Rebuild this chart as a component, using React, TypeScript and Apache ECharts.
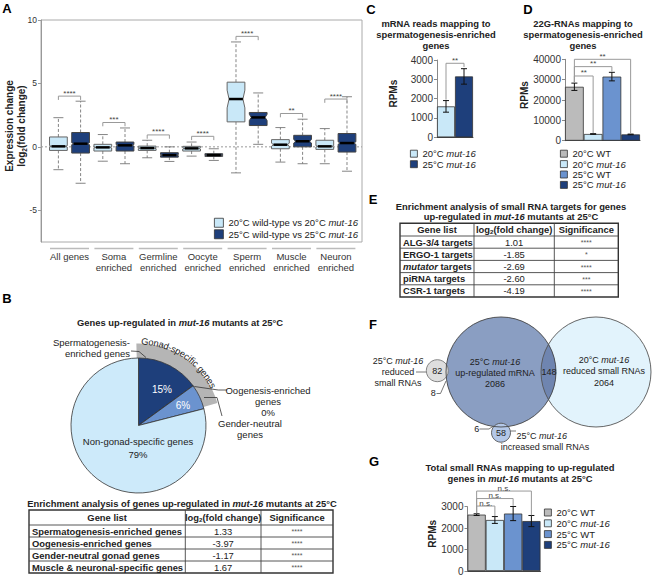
import React, { useEffect, useRef } from 'react';
import * as echarts from 'echarts';

const FONT = '"Liberation Sans", Arial, Helvetica, sans-serif';
const INK = '#222';
const LIGHT = '#c9e8f8';
const DARK = '#1e3f7b';
const MED = '#6b93cf';
const GREY = '#bbbbbb';

// ---------------- Panel A ----------------
const groupLabels = ['All genes', 'Soma\nenriched', 'Germline\nenriched', 'Oocyte\nenriched', 'Sperm\nenriched', 'Muscle\nenriched', 'Neuron\nenriched'];
const legendA = ['20°C wild-type vs 20°C mut-16', '25°C wild-type vs 25°C mut-16'];
// [lower whisker, Q1, median, Q3, upper whisker, notch half-height]
const box20 = [
  [-1.8, -0.28, 0.04, 0.78, 2.3, 0.06],
  [-1.13, -0.33, -0.04, 0.2, 0.97, 0.05],
  [-0.86, -0.28, -0.1, 0.06, 0.52, 0.04],
  [-0.73, -0.33, -0.12, 0.04, 0.38, 0.05],
  [-2.05, 1.97, 3.77, 5.1, 8.27, 0.7],
  [-1.2, -0.15, 0.17, 0.57, 1.52, 0.12],
  [-1.33, -0.2, 0.04, 0.52, 1.44, 0.06],
];
const box25 = [
  [-2.87, -0.49, 0.25, 1.13, 3.6, 0.08],
  [-1.33, -0.33, 0.12, 0.38, 1.49, 0.06],
  [-1.15, -0.81, -0.65, -0.46, 0, 0.04],
  [-1.07, -0.75, -0.65, -0.54, -0.15, 0.03],
  [0.2, 1.68, 2.32, 2.71, 4.25, 0.25],
  [-1.33, 0, 0.44, 0.91, 2.18, 0.14],
  [-1.92, -0.41, 0.3, 1.05, 3.95, 0.1],
];
const sigA = ['****', '***', '****', '****', '****', '**', '****'];
const sigAHeight = [4.0, 1.92, 0.94, 0.83, 8.71, 2.63, 3.77];
const yTicksA = [-5, 0, 5, 10];

// ---------------- Panel B ----------------
const pieNames = ['Spermatogenesis-enriched genes', 'Oogenesis-enriched genes', 'Gender-neutral genes', 'Non-gonad-specific genes'];
const pieValues = [15, 0, 6, 79];
const tableBGenes = ['Spermatogenesis-enriched genes', 'Oogenesis-enriched genes', 'Gender-neutral gonad genes', 'Muscle & neuronal-specific genes'];
const tableBFold = ['1.33', '-3.97', '-1.17', '1.67'];
const tableBSig = ['****', '****', '****', '****'];

// ---------------- Panel C ----------------
const condC = ['20°C mut-16', '25°C mut-16'];
const mrnaMean = [1600, 3150];
const mrnaErr = [300, 400];
const mrnaBrackets = [[0, 1, 3830, 1950, 3640]];
const mrnaSig = ['**'];

// ---------------- Panel D ----------------
const cond4 = ['20°C WT', '20°C mut-16', '25°C WT', '25°C mut-16'];
const g22Mean = [26500, 3300, 31500, 3100];
const g22Err = [1800, 150, 2100, 150];
const g22Brackets = [[0, 1, 31800, 28600, 3700], [0, 2, 36400, 28600, 34000], [0, 3, 40000, 28600, 3700]];
const g22Sig = ['**', '**', '**'];

// ---------------- Panel E ----------------
const tableEGenes = ['ALG-3/4 targets', 'ERGO-1 targets', 'mutator targets', 'piRNA targets', 'CSR-1 targets'];
const tableEFold = ['1.01', '-1.85', '-2.69', '-2.60', '-4.19'];
const tableESig = ['****', '*', '****', '***', '****'];

// ---------------- Panel F ----------------
const vennUp = 2086;
const vennRed20 = 2064;
const vennOverlap = 148;
const vennRed25 = 82;
const vennRed25Shared = 8;
const vennInc25 = 58;
const vennInc25Shared = 6;

// ---------------- Panel G ----------------
const totMean = [2630, 2380, 2680, 2330];
const totErr = [40, 160, 330, 260];
const totBrackets = [[0, 1, 3030, 2700, 2560], [0, 2, 3380, 2700, 3040], [0, 3, 3730, 2700, 2600]];
const totSig = ['n.s.', 'n.s.', 'n.s.'];

// ---------------- helpers ----------------
function mk(line: string, base: string): string {
  return line
    .split(/(mut-16|mutator|log2)/)
    .filter((p) => p !== '')
    .map((p) => {
      if (p === 'mut-16' || p === 'mutator') return `{${base}i|${p}}`;
      if (p === 'log2') return `{${base}|log}{s${base}|2}`;
      return `{${base}|${p}}`;
    })
    .join('');
}
const mkLines = (s: string, base: string) => s.split('\n').map((l) => mk(l, base)).join('\n');

function gRich(size: number, color = INK, lh?: number) {
  const f = (extra: any) => {
    const o: any = { fontSize: size, fontFamily: FONT, fill: color, ...extra };
    if (lh) o.lineHeight = lh;
    return o;
  };
  return {
    n: f({}),
    ni: f({ fontStyle: 'italic' }),
    b: f({ fontWeight: 'bold' }),
    bi: f({ fontWeight: 'bold', fontStyle: 'italic' }),
    sn: { fontSize: size * 0.65, fontFamily: FONT, fill: color, verticalAlign: 'bottom' },
    sb: { fontSize: size * 0.65, fontFamily: FONT, fill: color, fontWeight: 'bold', verticalAlign: 'bottom' },
  };
}
function lRich(size: number, lh: number) {
  return {
    n: { fontSize: size, fontFamily: FONT, color: INK, lineHeight: lh },
    ni: { fontSize: size, fontFamily: FONT, color: INK, lineHeight: lh, fontStyle: 'italic' },
  };
}

function txt(x: number, y: number, text: string, o: any = {}) {
  const size = o.size ?? 9.5;
  const style: any = {
    text,
    fill: o.fill ?? INK,
    fontSize: size,
    fontFamily: FONT,
    fontWeight: o.weight ?? 'normal',
    textAlign: o.align ?? 'center',
    textVerticalAlign: o.valign ?? 'middle',
  };
  if (o.lh) style.lineHeight = o.lh;
  if (o.rich) style.rich = o.rich;
  return { type: 'text', x, y, rotation: o.rot ?? 0, silent: true, z: 20, style };
}
function rtxt(x: number, y: number, s: string, base: string, o: any = {}) {
  return txt(x, y, mkLines(s, base), { ...o, rich: gRich(o.size ?? 9.5, o.fill ?? INK, o.lh) });
}
function pline(points: number[][], stroke = '#333', lw = 0.8) {
  return { type: 'polyline', silent: true, z: 15, shape: { points }, style: { stroke, fill: 'none', lineWidth: lw } };
}

function arcText(text: string, cx: number, cy: number, r: number, startDeg: number, size: number) {
  const ctx = document.createElement('canvas').getContext('2d')!;
  ctx.font = `${size}px "Liberation Sans"`;
  const chars = Array.from(text);
  const first = ctx.measureText(chars[0]).width;
  const a0 = (startDeg * Math.PI) / 180 - first / 2 / r;
  let s = 0;
  const els: any[] = [];
  for (const ch of chars) {
    const w = ctx.measureText(ch).width;
    const a = a0 + (s + w / 2) / r;
    s += w;
    if (ch === ' ') continue;
    els.push({
      type: 'text', x: cx + r * Math.sin(a), y: cy - r * Math.cos(a), rotation: -a, silent: true, z: 20,
      style: { text: ch, fill: INK, fontSize: size, fontFamily: FONT, textAlign: 'center', textVerticalAlign: 'middle' },
    });
  }
  return els;
}

function table(xs: number[], yTop: number, headH: number, rowH: number, rows: string[][], size: number) {
  const els: any[] = [];
  const yBot = yTop + headH + rowH * rows.length;
  els.push({ type: 'rect', silent: true, z: 14, shape: { x: xs[0], y: yTop, width: xs[3] - xs[0], height: yBot - yTop }, style: { fill: '#fff', stroke: '#333', lineWidth: 1.4 } });
  for (let r = 0; r < rows.length; r++) {
    const y = yTop + headH + r * rowH;
    els.push(pline([[xs[0], y], [xs[3], y]], '#444', 0.9));
  }
  [xs[1], xs[2]].forEach((x) => els.push(pline([[x, yTop], [x, yBot]], '#444', 0.9)));
  ['Gene list', 'log2(fold change)', 'Significance'].forEach((h, c) =>
    els.push(rtxt((xs[c] + xs[c + 1]) / 2, yTop + headH / 2, h, 'b', { size })),
  );
  rows.forEach((row, r) => {
    const yc = yTop + headH + rowH * r + rowH / 2;
    els.push(rtxt(xs[0] + 3, yc, row[0], 'b', { size, align: 'left' }));
    els.push(txt((xs[1] + xs[2]) / 2, yc, row[1], { size }));
    els.push(txt((xs[2] + xs[3]) / 2, yc + 0.5, row[2], { size: 7, fill: '#555' }));
  });
  return els;
}

const boxRender = (offset: number, stroke: string) => (params: any, api: any) => {
  const g = api.value(0);
  const wl = api.value(1), q1 = api.value(2), med = api.value(3), q3 = api.value(4), wh = api.value(5), nt = api.value(6);
  const cx = g + offset;
  const pc = api.coord([cx, med]);
  const hw = api.coord([cx + 0.2, med])[0] - pc[0];
  const X = pc[0];
  const y = (v: number) => api.coord([cx, v])[1];
  const L = X - hw, R = X + hw, ind = hw * 0.22;
  const yq1 = y(q1), yq3 = y(q3), ym = y(med);
  const nHi = y(Math.min(med + nt, q3)), nLo = y(Math.max(med - nt, q1));
  const wStyle = { stroke: '#777', lineWidth: 0.9, lineDash: [3, 2] };
  const cStyle = { stroke: '#777', lineWidth: 0.9 };
  return {
    type: 'group',
    children: [
      { type: 'line', shape: { x1: X, y1: yq3, x2: X, y2: y(wh) }, style: wStyle },
      { type: 'line', shape: { x1: X, y1: yq1, x2: X, y2: y(wl) }, style: wStyle },
      { type: 'line', shape: { x1: X - 5, y1: y(wh), x2: X + 5, y2: y(wh) }, style: cStyle },
      { type: 'line', shape: { x1: X - 5, y1: y(wl), x2: X + 5, y2: y(wl) }, style: cStyle },
      {
        type: 'polygon',
        shape: { points: [[L, yq3], [R, yq3], [R, nHi], [R - ind, ym], [R, nLo], [R, yq1], [L, yq1], [L, nLo], [L + ind, ym], [L, nHi]] },
        style: { fill: api.visual('color'), stroke, lineWidth: 1 },
      },
      { type: 'line', shape: { x1: L + ind, y1: ym, x2: R - ind, y2: ym }, style: { stroke: '#000', lineWidth: 2.5 } },
    ],
  };
};

const bracketRender = (labels: string[], size: number) => (params: any, api: any) => {
  const x1 = api.value(0), x2 = api.value(1), yl = api.value(2), d1 = api.value(3), d2 = api.value(4);
  const p1 = api.coord([x1, yl]), p2 = api.coord([x2, yl]);
  const q1 = api.coord([x1, d1]), q2 = api.coord([x2, d2]);
  return {
    type: 'group',
    children: [
      { type: 'polyline', shape: { points: [[p1[0], q1[1]], [p1[0], p1[1]], [p2[0], p2[1]], [p2[0], q2[1]]] }, style: { stroke: '#999', fill: 'none', lineWidth: 1 } },
      {
        type: 'text', x: (p1[0] + p2[0]) / 2, y: p1[1] + 1,
        style: { text: labels[params.dataIndex], fill: '#444', fontSize: size, fontFamily: FONT, textAlign: 'center', textVerticalAlign: 'bottom' },
      },
    ],
  };
};

const errRender = (params: any, api: any) => {
  const i = api.value(0), m = api.value(1), e = api.value(2);
  const top = api.coord([i, m + e]), bot = api.coord([i, m - e]);
  const x = top[0];
  const st = { stroke: '#111', lineWidth: 1 };
  return {
    type: 'group',
    children: [
      { type: 'line', shape: { x1: x, y1: top[1], x2: x, y2: bot[1] }, style: st },
      { type: 'line', shape: { x1: x - 3, y1: top[1], x2: x + 3, y2: top[1] }, style: st },
      { type: 'line', shape: { x1: x - 3, y1: bot[1], x2: x + 3, y2: bot[1] }, style: st },
    ],
  };
};

const underlineRender = (params: any, api: any) => {
  const p = api.coord([api.value(0), api.value(1)]);
  return { type: 'line', shape: { x1: p[0] - 19.5, y1: p[1] + 6.5, x2: p[0] + 19.5, y2: p[1] + 6.5 }, style: { stroke: '#bbb', lineWidth: 1.6 } };
};

function barSeries(names: string[], colors: string[], means: number[], idx: number, stack: string) {
  return names.map((n, k) => ({
    type: 'bar', name: n, xAxisIndex: idx, yAxisIndex: idx, stack,
    data: means.map((m, i) => (i === k ? m : '-')),
    barCategoryGap: '0%', barGap: '0%',
    itemStyle: { color: colors[k], borderColor: '#333', borderWidth: 0.8 },
    silent: true,
  }));
}

function smallAxis(idx: number, max: number, interval: number, gap: number) {
  return {
    gridIndex: idx, type: 'value', min: 0, max, interval,
    name: 'RPMs', nameLocation: 'middle', nameGap: gap,
    nameTextStyle: { fontWeight: 'bold', fontSize: 10, fontFamily: FONT, color: INK, padding: [0, 0, 0, 10] },
    axisLine: { show: true, lineStyle: { color: '#888' } },
    axisTick: { show: true, length: 3, lineStyle: { color: '#888' } },
    axisLabel: { fontSize: 10, color: '#333', margin: 4, fontFamily: FONT, formatter: (v: number) => String(v) },
    splitLine: { show: false },
  };
}
function catAxis(idx: number, data: string[]) {
  return {
    gridIndex: idx, type: 'category', data,
    axisLabel: { show: false }, axisTick: { show: false },
    axisLine: { show: true, lineStyle: { color: '#444' } },
  };
}
function legend(data: string[], left: number, top: number, size: number, lh: number, gap: number, icon: number) {
  return {
    data, left, top, orient: 'vertical', icon: 'rect', itemWidth: icon, itemHeight: icon, itemGap: gap,
    selectedMode: false, padding: 0,
    itemStyle: { borderColor: '#333', borderWidth: 0.8 },
    formatter: (n: string) => mk(n, 'n'),
    textStyle: { fontSize: size, fontFamily: FONT, color: INK, lineHeight: lh, rich: lRich(size, lh) },
  };
}

function buildOption() {
  const gfx: any[] = [];
  // panel letters
  [['A', 7, 8], ['B', 7, 298], ['C', 371, 9], ['D', 528, 9], ['E', 373, 199], ['F', 373, 324], ['G', 374, 461]].forEach(([l, x, y]) =>
    gfx.push(txt(x as number, y as number, l as string, { size: 13, weight: 'bold', fill: '#000' })),
  );
  // A axis name
  gfx.push(rtxt(15.5, 126, 'Expression change\nlog2(fold change)', 'b', { size: 10, lh: 12.4, rot: Math.PI / 2 }));

  // B
  gfx.push(rtxt(180, 322, 'Genes up-regulated in mut-16 mutants at 25°C', 'b', { size: 9.4 }));
  gfx.push(...arcText('Gonad-specific genes', 138.5, 425.5, 84, 4.4, 9.3));
  gfx.push(rtxt(130, 348.2, 'Spermatogenesis-\nenriched genes', 'n', { align: 'right', lh: 10.5 }));
  gfx.push(pline([[131, 351], [139, 351.5], [146, 357.5]]));
  gfx.push(rtxt(268, 401.3, `Oogenesis-enriched\ngenes\n${pieValues[1]}%`, 'n', { lh: 10.8 }));
  gfx.push(pline([[194.3, 386.5], [218.3, 390], [227, 390]]));
  gfx.push(rtxt(250, 429, 'Gender-neutral\ngenes', 'n', { lh: 10.6 }));
  gfx.push(pline([[204, 397.5], [217, 397.5], [222, 416]]));
  gfx.push(txt(162, 389, `${pieValues[0]}%`, { size: 10, fill: '#fff' }));
  gfx.push(txt(183, 405.7, `${pieValues[2]}%`, { size: 10, fill: '#fff' }));
  gfx.push(rtxt(138, 448, `Non-gonad-specific genes\n${pieValues[3]}%`, 'n', { lh: 12.6 }));
  gfx.push(rtxt(182, 503, 'Enrichment analysis of genes up-regulated in mut-16 mutants at 25°C', 'b', { size: 9.4 }));
  gfx.push(...table([29, 185.3, 261, 333], 510, 15, 12, tableBGenes.map((g, i) => [g, tableBFold[i], tableBSig[i]]), 9.4));

  // C, D titles
  gfx.push(rtxt(436, 34.8, 'mRNA reads mapping to\nspermatogenesis-enriched\ngenes', 'b', { size: 9.4, lh: 10.85 }));
  gfx.push(rtxt(583, 34.8, '22G-RNAs mapping to\nspermatogenesis-enriched\ngenes', 'b', { size: 9.4, lh: 10.85 }));

  // E
  gfx.push(rtxt(511, 211.7, 'Enrichment analysis of small RNA targets for genes\nup-regulated in mut-16 mutants at 25°C', 'b', { size: 9.4, lh: 10 }));
  gfx.push(...table([400, 474, 554.3, 618.3], 223.3, 12.7, 12.2, tableEGenes.map((g, i) => [g, tableEFold[i], tableESig[i]]), 9.4));

  // F venn
  const c1 = [501, 372], c2 = [596, 372], R = 55;
  gfx.push({ type: 'circle', silent: true, z: 10, shape: { cx: c2[0], cy: c2[1], r: R }, style: { fill: '#e2f3fc', stroke: 'none' } });
  gfx.push({ type: 'circle', silent: true, z: 10, shape: { cx: c1[0], cy: c1[1], r: R }, style: { fill: '#8a9ec2', stroke: 'none' } });
  const d = c2[0] - c1[0];
  const th = Math.acos(d / 2 / R);
  const lens: number[][] = [];
  for (let k = 0; k <= 20; k++) {
    const a = -th + (2 * th * k) / 20;
    lens.push([c1[0] + R * Math.cos(a), c1[1] + R * Math.sin(a)]);
  }
  for (let k = 0; k <= 20; k++) {
    const a = Math.PI - th + (2 * th * k) / 20;
    lens.push([c2[0] + R * Math.cos(a), c2[1] + R * Math.sin(a)]);
  }
  gfx.push({ type: 'polygon', silent: true, z: 11, shape: { points: lens }, style: { fill: '#6f85b0', stroke: 'none' } });
  gfx.push({ type: 'circle', silent: true, z: 12, shape: { cx: 437.3, cy: 370.7, r: 11 }, style: { fill: '#dedede', stroke: '#777', lineWidth: 0.9 } });
  gfx.push({ type: 'circle', silent: true, z: 12, shape: { cx: 501, cy: 432.7, r: 9.5 }, style: { fill: '#b4c8e8', stroke: '#555', lineWidth: 0.9 } });
  gfx.push({ type: 'circle', silent: true, z: 13, shape: { cx: c2[0], cy: c2[1], r: R }, style: { fill: 'none', stroke: '#555', lineWidth: 0.9 } });
  gfx.push({ type: 'circle', silent: true, z: 13, shape: { cx: c1[0], cy: c1[1], r: R }, style: { fill: 'none', stroke: '#444', lineWidth: 0.9 } });
  gfx.push(rtxt(398, 372.3, '25°C mut-16\nreduced\nsmall RNAs', 'n', { size: 9, lh: 11.2 }));
  gfx.push(pline([[416, 372], [426, 372]], '#555'));
  gfx.push(txt(437.3, 370.7, `${vennRed25}`, { size: 9 }));
  gfx.push(txt(433.3, 393.3, `${vennRed25Shared}`, { size: 9 }));
  gfx.push(pline([[436.5, 393.5], [440.5, 393.5], [446, 381]], '#555'));
  gfx.push(rtxt(495, 373.2, `25°C mut-16\nup-regulated mRNA\n${vennUp}`, 'n', { size: 9, lh: 10.9 }));
  gfx.push(txt(549, 371.7, `${vennOverlap}`, { size: 9 }));
  gfx.push(rtxt(604, 371.3, `20°C mut-16\nreduced small RNAs\n${vennRed20}`, 'n', { size: 9, lh: 11.7 }));
  gfx.push(txt(476.7, 429, `${vennInc25Shared}`, { size: 9 }));
  gfx.push(pline([[479.5, 429], [489, 429], [493.5, 426]], '#555'));
  gfx.push(txt(501, 432.7, `${vennInc25}`, { size: 9 }));
  gfx.push(pline([[510.5, 431], [516, 431]], '#555'));
  gfx.push(rtxt(516.5, 436, '25°C mut-16', 'n', { size: 9, align: 'left' }));
  gfx.push(txt(545, 446.7, 'increased small RNAs', { size: 9 }));

  // G title
  gfx.push(rtxt(520, 473, 'Total small RNAs mapping to up-regulated\ngenes in mut-16 mutants at 25°C', 'b', { size: 9.4, lh: 11 }));

  const series: any[] = [
    // A
    {
      type: 'line', xAxisIndex: 0, yAxisIndex: 0, data: [[0.358, 0], [7.588, 0]], showSymbol: false, silent: true, z: 1,
      lineStyle: { type: [2, 2], color: '#999', width: 1 },
    },
    { type: 'custom', xAxisIndex: 0, yAxisIndex: 0, silent: true, renderItem: underlineRender, data: groupLabels.map((_, i) => [i + 1, -7.5]), encode: { x: 0, y: 1 } },
    {
      type: 'custom', name: legendA[0], xAxisIndex: 0, yAxisIndex: 0, silent: true, z: 3, itemStyle: { color: LIGHT, borderColor: '#555' },
      renderItem: boxRender(-0.25, '#666'), data: box20.map((b, i) => [i + 1, ...b]), encode: { x: 0, y: [1, 2, 3, 4, 5] },
    },
    {
      type: 'custom', name: legendA[1], xAxisIndex: 0, yAxisIndex: 0, silent: true, z: 3, itemStyle: { color: DARK, borderColor: '#333' },
      renderItem: boxRender(0.25, '#444'), data: box25.map((b, i) => [i + 1, ...b]), encode: { x: 0, y: [1, 2, 3, 4, 5] },
    },
    {
      type: 'custom', xAxisIndex: 0, yAxisIndex: 0, silent: true, z: 4, renderItem: bracketRender(sigA, 8),
      data: sigAHeight.map((h, i) => [i + 1 - 0.25, i + 1 + 0.25, h, h - 0.3, h - 0.3]), encode: { x: [0, 1], y: 2 },
    },
    // C
    ...barSeries(condC, [LIGHT, DARK], mrnaMean, 1, 'c'),
    { type: 'custom', xAxisIndex: 1, yAxisIndex: 1, silent: true, z: 5, renderItem: errRender, data: mrnaMean.map((m, i) => [i, m, mrnaErr[i]]), encode: { x: 0, y: 1 } },
    { type: 'custom', xAxisIndex: 1, yAxisIndex: 1, silent: true, z: 5, renderItem: bracketRender(mrnaSig, 8), data: mrnaBrackets, encode: { x: 0, y: 2 } },
    // D
    ...barSeries(cond4, [GREY, LIGHT, MED, DARK], g22Mean, 2, 'd'),
    { type: 'custom', xAxisIndex: 2, yAxisIndex: 2, silent: true, z: 5, renderItem: errRender, data: g22Mean.map((m, i) => [i, m, g22Err[i]]), encode: { x: 0, y: 1 } },
    { type: 'custom', xAxisIndex: 2, yAxisIndex: 2, silent: true, z: 5, renderItem: bracketRender(g22Sig, 8), data: g22Brackets, encode: { x: 0, y: 2 } },
    // G
    ...barSeries(cond4, [GREY, LIGHT, MED, DARK], totMean, 3, 'g'),
    { type: 'custom', xAxisIndex: 3, yAxisIndex: 3, silent: true, z: 5, renderItem: errRender, data: totMean.map((m, i) => [i, m, totErr[i]]), encode: { x: 0, y: 1 } },
    { type: 'custom', xAxisIndex: 3, yAxisIndex: 3, silent: true, z: 5, renderItem: bracketRender(totSig, 8), data: totBrackets, encode: { x: 0, y: 2 } },
    // B pie
    {
      type: 'pie', center: [138.5, 425.5], radius: [67.5, 82], startAngle: 91.5, clockwise: true, silent: true,
      label: { show: false }, labelLine: { show: false },
      data: [
        { name: 'Gonad-specific genes', value: pieValues[0] + pieValues[1] + pieValues[2], itemStyle: { color: '#b5b5b5' } },
        { name: 'rest', value: pieValues[3], itemStyle: { color: 'rgba(0,0,0,0)' } },
      ],
    },
    {
      type: 'pie', center: [138.5, 425.5], radius: 67.5, startAngle: 90, clockwise: true, silent: true,
      label: { show: false }, labelLine: { show: false },
      itemStyle: { borderColor: '#333', borderWidth: 0.8 },
      data: pieNames.map((n, i) => ({ name: n, value: pieValues[i], itemStyle: { color: [DARK, '#ffffff', MED, '#cdeafa'][i] } })),
    },
  ];

  return {
    animation: false,
    backgroundColor: '#fff',
    textStyle: { fontFamily: FONT },
    grid: [
      { left: 41, top: 20, width: 321, height: 222, show: true, borderColor: '#aaa', borderWidth: 1 },
      { left: 437, top: 60, width: 36, height: 77.3 },
      { left: 565, top: 59.3, width: 75, height: 81.4 },
      { left: 467.5, top: 506.7, width: 73, height: 66 },
    ],
    xAxis: [
      {
        gridIndex: 0, type: 'value', min: 0.358, max: 7.588,
        axisLine: { show: false }, axisTick: { show: false }, splitLine: { show: false },
        axisLabel: {
          customValues: groupLabels.map((_, i) => i + 1),
          formatter: (v: number) => groupLabels[Math.round(v) - 1] ?? '',
          fontSize: 9.5, lineHeight: 11, color: '#333', margin: 8.5, fontFamily: FONT,
        },
      },
      catAxis(1, condC),
      catAxis(2, cond4),
      catAxis(3, cond4),
    ],
    yAxis: [
      {
        gridIndex: 0, type: 'value', min: -7.5, max: 10,
        axisLine: { show: true, lineStyle: { color: '#999' } },
        axisTick: { show: true, length: 3, customValues: yTicksA, lineStyle: { color: '#999' } },
        axisLabel: { customValues: yTicksA, fontSize: 8.5, color: '#333', margin: 4, fontFamily: FONT },
        splitLine: { show: false },
      },
      smallAxis(1, 4000, 1000, 39),
      smallAxis(2, 40000, 10000, 34),
      smallAxis(3, 3000, 1000, 30.5),
    ],
    legend: [
      legend(legendA, 214, 217.5, 9.5, 10.5, 1, 9),
      legend(condC, 410, 148.7, 9.5, 9.8, 0.5, 7),
      legend(cond4, 560, 148.7, 9.5, 9.8, 0.4, 7),
      legend(cond4, 544, 507.5, 9.5, 9.8, 0.8, 7),
    ],
    series,
    graphic: { elements: gfx },
  };
}

export default function App() {
  const ref = useRef<HTMLDivElement>(null);
  useEffect(() => {
    document.body.style.margin = '0';
    const chart = echarts.init(ref.current!, null, { renderer: 'svg' });
    chart.setOption(buildOption() as any);
    return () => chart.dispose();
  }, []);
  return <div ref={ref} style={{ width: 654, height: 576 }} />;
}
